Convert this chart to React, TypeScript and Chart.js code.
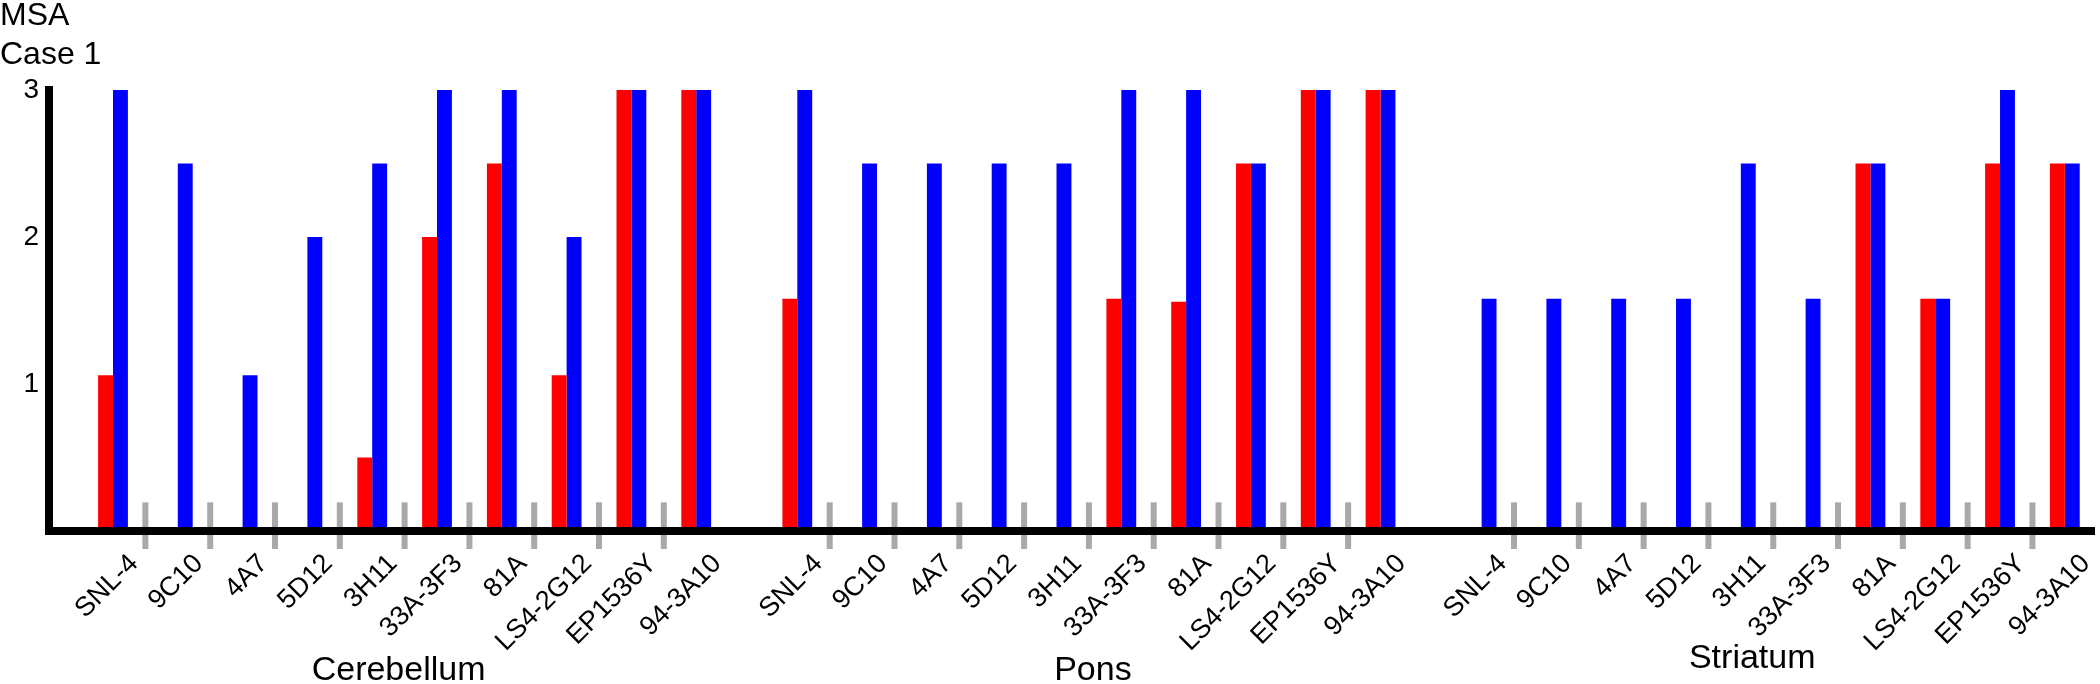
import React, { useEffect, useRef } from "react";
import { Chart, registerables } from "chart.js";

Chart.register(...registerables);

// ---- data ----
const ANTIBODIES = ["SNL-4", "9C10", "4A7", "5D12", "3H11", "33A-3F3", "81A", "LS4-2G12", "EP1536Y", "94-3A10"];
const REGIONS = ["Cerebellum", "Pons", "Striatum"];

const RED_CEREBELLUM = [1.06, null, null, null, 0.5, 2.0, 2.5, 1.06, 3, 3];
const BLUE_CEREBELLUM = [3, 2.5, 1.06, 2.0, 2.5, 3, 3, 2.0, 3, 3];
const RED_PONS = [1.58, null, null, null, null, 1.58, 1.56, 2.5, 3, 3];
const BLUE_PONS = [3, 2.5, 2.5, 2.5, 2.5, 3, 3, 2.5, 3, 3];
const RED_STRIATUM = [null, null, null, null, null, null, 2.5, 1.58, 2.5, 2.5];
const BLUE_STRIATUM = [1.58, 1.58, 1.58, 1.58, 2.5, 1.58, 2.5, 1.58, 3, 2.5];

const Y_TICKS = [1, 2, 3];
const MARKER_VALUE = 0.195; // height of the grey separator marks

const TITLE_LINES = ["MSA", "Case 1"];

// ---- layout constants ----
const REGION_STEP = 10.56;
const FONT = "'Liberation Sans', Arial, Helvetica, sans-serif";

const RED_BY_REGION = [RED_CEREBELLUM, RED_PONS, RED_STRIATUM];
const BLUE_BY_REGION = [BLUE_CEREBELLUM, BLUE_PONS, BLUE_STRIATUM];

const positions: number[] = [];
const labels: string[] = [];
REGIONS.forEach((_, g) => {
  ANTIBODIES.forEach((ab, i) => {
    positions.push(g * REGION_STEP + i);
    labels.push(ab);
  });
});

const redPoints = REGIONS.flatMap((_, g) =>
  RED_BY_REGION[g].map((v, i) => ({ x: g * REGION_STEP + i, y: v }))
);
const bluePoints = REGIONS.flatMap((_, g) =>
  BLUE_BY_REGION[g].map((v, i) => ({ x: g * REGION_STEP + i, y: v }))
);

const REGION_LABEL_DX = [-6, 4, -21];
const REGION_LABEL_Y = [671, 671, 659];

const decorPlugin = {
  id: "decor",
  afterDatasetsDraw(chart: any) {
    const { ctx } = chart;
    const xs = chart.scales.x;
    const ys = chart.scales.y;
    ctx.save();
    ctx.fillStyle = "#a9a9a9";
    const top = ys.getPixelForValue(MARKER_VALUE);
    const bottom = ys.getPixelForValue(0) + 18;
    REGIONS.forEach((_, g) => {
      for (let i = 0; i < ANTIBODIES.length - 1; i++) {
        const px = xs.getPixelForValue(g * REGION_STEP + i + 0.5);
        ctx.fillRect(px - 3, top, 6, bottom - top);
      }
    });
    ctx.restore();
  },
  afterDraw(chart: any) {
    const { ctx } = chart;
    const xs = chart.scales.x;
    ctx.save();
    ctx.fillStyle = "#000";
    ctx.textAlign = "center";
    ctx.textBaseline = "middle";
    ctx.font = `34px ${FONT}`;
    REGIONS.forEach((r, g) => {
      const px = xs.getPixelForValue(g * REGION_STEP + (ANTIBODIES.length - 1) / 2);
      ctx.fillText(r, px + REGION_LABEL_DX[g], REGION_LABEL_Y[g]);
    });
    ctx.textAlign = "left";
    ctx.textBaseline = "alphabetic";
    ctx.font = `32px ${FONT}`;
    ctx.fillText(TITLE_LINES[0], 0, 25);
    ctx.fillText(TITLE_LINES[1], 0, 64);
    ctx.restore();
  },
};

export default function App() {
  const ref = useRef<HTMLCanvasElement | null>(null);
  useEffect(() => {
    if (!ref.current) return;
    const chart = new Chart(ref.current, {
      type: "bar",
      data: {
        datasets: [
          {
            label: "red",
            data: redPoints as any,
            backgroundColor: "#ff0000",
            borderWidth: 0,
            barPercentage: 1,
            categoryPercentage: 0.46,
          },
          {
            label: "blue",
            data: bluePoints as any,
            backgroundColor: "#0000ff",
            borderWidth: 0,
            barPercentage: 1,
            categoryPercentage: 0.46,
          },
        ],
      },
      options: {
        responsive: false,
        animation: false,
        devicePixelRatio: 1,
        layout: { padding: { left: 0, right: 6, top: 90, bottom: 0 } },
        plugins: {
          legend: { display: false },
          tooltip: { enabled: false },
          title: { display: false },
        },
        scales: {
          x: {
            type: "linear",
            offset: false,
            min: -0.9875,
            max: 30.57,
            grid: { display: false, drawTicks: false },
            border: { display: true, color: "#000", width: 8, z: 1 },
            afterBuildTicks: (s: any) => {
              s.ticks = positions.map((v) => ({ value: v }));
            },
            afterFit: (s: any) => {
              s.height = 153;
              s.paddingLeft = 0;
              s.paddingRight = 0;
            },
            ticks: {
              autoSkip: false,
              minRotation: 45,
              maxRotation: 45,
              padding: 17,
              labelOffset: 21,
              color: "#000",
              font: { family: FONT, size: 27 },
              callback: (_v: any, i: number) => labels[i],
            },
          },
          y: {
            min: 0,
            max: 3,
            grid: { display: false, drawTicks: false },
            border: { display: true, color: "#000", width: 8 },
            afterBuildTicks: (s: any) => {
              s.ticks = [0, ...Y_TICKS].map((v) => ({ value: v }));
            },
            afterFit: (s: any) => {
              s.width = 49;
            },
            ticks: {
              padding: 10,
              color: "#000",
              font: { family: FONT, size: 28 },
              callback: (v: any) => (v === 0 ? "" : String(v)),
            },
          },
        },
      },
      plugins: [decorPlugin],
    } as any);
    return () => chart.destroy();
  }, []);
  return (
    <div style={{ position: "fixed", left: 0, top: 0, width: 2100, height: 684, background: "#fff" }}>
      <canvas ref={ref} width={2100} height={684} style={{ width: 2100, height: 684, display: "block" }} />
    </div>
  );
}
